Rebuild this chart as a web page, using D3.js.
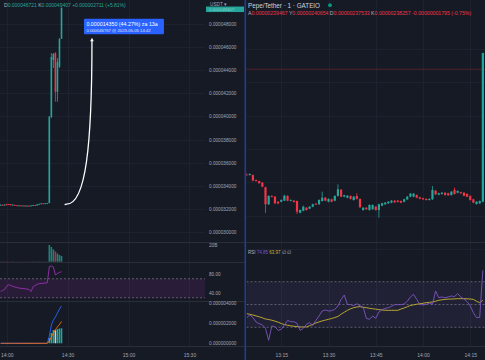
<!DOCTYPE html>
<html><head><meta charset="utf-8">
<script src="https://cdn.jsdelivr.net/npm/d3@7/dist/d3.min.js"></script>
<style>
html,body{margin:0;padding:0;background:#161a25;overflow:hidden}
svg{display:block}
</style></head><body>
<svg id="chart" width="485" height="360"></svg>
<script>
// ---------------- LEFT CHART DATA (prices in 1e-9 USDT) ----------------
const leftTimes = ["13:57","13:58","13:59","14:00","14:01","14:02","14:03","14:04","14:05","14:06","14:07","14:08","14:09","14:10","14:11","14:12","14:13","14:14","14:15","14:16","14:17","14:18","14:19","14:20","14:21","14:22","14:23","14:24","14:25","14:26","14:27"];
const leftOpen  = [32329,32355,32303,32416,32416,32399,32329,32346,32312,32277,32303,32260,32286,32242,32277,32242,32286,32329,32294,32390,32433,32476,32433,32485,32502,39948,44883,45489,42139,44303,46721];
const leftHigh  = [32390,32372,32390,32433,32433,32416,32390,32355,32329,32312,32312,32294,32294,32286,32286,32303,32346,32346,32399,32450,32490,32490,32500,32520,40035,45489,45489,45550,45056,46788,49407];
const leftLow   = [32303,32286,32294,32312,32329,32294,32312,32277,32260,32260,32250,32250,32230,32230,32230,32235,32277,32286,32286,32380,32420,32420,32425,32470,32490,39861,44190,41273,41273,44200,46721];
const leftClose = [32355,32303,32372,32329,32346,32312,32372,32286,32277,32303,32260,32286,32242,32277,32242,32294,32329,32294,32390,32433,32476,32433,32485,32502,39974,45143,45403,42139,44710,46696,49407];
const leftVolume = [0.2,0.3,0.2,0.3,0.2,0.2,0.3,0.1,0.2,0.1,0.2,0.1,0.2,0.1,0.2,0.2,0.3,0.2,0.3,0.3,0.2,0.3,0.2,0.3,20,17.6,14.6,12.2,9.8,8.0,6.8];
const leftRsi = [43.2,45.3,47.4,54.7,57.5,55.8,53.7,52.6,51.6,50.5,49.9,49.3,48.8,48.4,47.4,43.2,53.3,55.8,57.9,60,60,60.4,61.1,61.7,95.8,96.8,94.7,77.9,81.1,83.2,84.8];
const leftMacd   = [0,0,0,0,0,0,0,0,0,0,0,0,0,0,0,0,0,0,0,0,0,0,0,0,730,1830,2330,2630,3030,3430,3730];
const leftSignal = [0,0,0,0,0,0,0,0,0,0,0,0,0,0,0,0,0,0,0,0,0,0,0,0,230,630,1030,1380,1630,1880,2180];
const leftHist   = [0,0,0,0,0,0,0,0,0,0,0,0,0,0,0,0,0,0,0,0,0,0,0,0,530,1030,1330,1300,1430,1480,1500];
const leftPriceTicks = [30000,32000,34000,36000,38000,40000,42000,44000,46000,48000];
const leftRsiTicks = [40,80];
const leftRsiBand = [30,70];
const leftMacdTicks = [0,2000,4000];
const leftTimeTicks = ["14:00","14:30","15:00","15:30"];
const leftCurrent = 49407;
// measure arrow: from time/price to time/price, with two control points
const measureFrom = ["14:29:30", 32416];
const measureCtrl1 = ["14:39:00", 32416];
const measureCtrl2 = ["14:42:00", 37524];
const measureTo   = ["14:42:00", 46767];
const measureLine1 = "0.000014350 (44.27%) za 13a";
const measureLine2 = "0.000046767 @ 2023-05-05  14:42";

// ---------------- RIGHT CHART DATA (Pepe/Tether, prices in 1e-9 USDT) ----------------
const rightStart = "13:04";
const rightOpen = [2407.3,2406.8,2406.8,2402.5,2401.6,2400.2,2396.2,2381.5,2388.7,2388.1,2383.7,2383.7,2384.6,2388.7,2384.6,2384.6,2384.3,2374.2,2375.9,2378.5,2377.7,2379.4,2382.0,2381.5,2384.3,2387.2,2383.7,2385.8,2384.6,2388.7,2394.1,2388.1,2387.2,2388.7,2385.2,2388.7,2386.1,2376.5,2378.5,2376.5,2377.2,2379.4,2376.5,2380.3,2381.5,2382.3,2382.9,2384.6,2384.6,2384.3,2383.7,2385.8,2388.1,2388.1,2389.5,2387.5,2386.7,2386.1,2385.2,2385.8,2393.3,2389.8,2390.4,2391.5,2391.0,2389.5,2393.9,2391.5,2391.9,2391.5,2390.4,2388.7,2385.8,2381.7,2382.3,2383.7];
const rightHigh = [2408.6,2408.2,2407.3,2402.9,2401.9,2400.6,2396.7,2389.3,2389.3,2388.7,2384.3,2385.8,2389.8,2389.3,2385.8,2385.2,2384.8,2377.0,2380.3,2379.0,2379.9,2382.0,2382.5,2385.8,2392.4,2387.7,2386.6,2386.3,2389.3,2398.8,2394.6,2389.8,2389.4,2389.2,2388.6,2391.0,2386.6,2379.0,2379.0,2381.4,2381.4,2379.9,2382.0,2382.8,2383.4,2384.2,2385.1,2385.1,2385.1,2384.8,2386.3,2388.6,2391.2,2391.2,2390.0,2388.0,2387.2,2386.6,2386.6,2397.3,2393.8,2391.5,2392.0,2392.0,2391.5,2392.9,2395.9,2393.5,2392.4,2392.0,2390.9,2389.2,2386.3,2384.2,2384.8,2512.5];
const rightLow = [2406.0,2406.4,2401.6,2401.1,2399.3,2396.2,2373.9,2380.9,2387.5,2381.7,2381.5,2383.2,2384.3,2384.1,2384.1,2383.0,2373.1,2373.6,2375.4,2376.0,2377.2,2378.9,2381.0,2381.0,2383.8,2384.1,2383.2,2383.2,2384.1,2388.2,2387.6,2387.6,2386.7,2385.6,2384.7,2385.6,2378.4,2376.0,2376.7,2376.0,2376.7,2376.0,2369.9,2379.8,2381.0,2381.8,2382.4,2382.7,2383.0,2382.4,2383.2,2385.3,2387.6,2387.6,2386.7,2385.8,2385.3,2384.7,2384.7,2385.3,2389.6,2389.3,2389.9,2389.0,2388.8,2389.0,2389.9,2391.0,2390.5,2388.4,2387.6,2384.7,2382.4,2381.2,2381.8,2383.2];
const rightClose = [2406.8,2407.7,2401.9,2401.6,2399.7,2396.7,2381.5,2388.7,2388.1,2382.3,2382.3,2385.2,2388.9,2384.6,2385.2,2383.5,2375.1,2376.5,2379.4,2376.5,2379.4,2381.5,2381.5,2385.2,2387.2,2384.6,2386.1,2383.7,2388.7,2394.5,2388.1,2389.3,2388.9,2386.1,2388.1,2386.1,2378.9,2378.5,2377.2,2380.9,2380.9,2376.5,2381.5,2382.3,2382.9,2383.7,2384.6,2383.2,2383.5,2382.9,2385.8,2388.1,2390.7,2390.7,2387.2,2386.3,2385.8,2385.2,2386.1,2393.9,2390.1,2391.0,2391.5,2389.5,2389.3,2392.4,2390.4,2393.0,2391.0,2388.9,2388.1,2385.2,2382.9,2383.7,2384.3,2512.5];
const rightRsi = [38.4,40.8,38.7,34.6,33.2,32.0,29.1,18.6,31.1,30.6,27.3,28.2,32.0,36.1,34.9,34.9,33.5,27.3,29.1,32.6,34.1,31.7,36.1,39.9,44.3,45.2,44.3,44.6,45.8,48.7,54.5,58.3,50.1,49.9,49.0,50.7,48.7,47.8,37.9,37.0,39.9,37.9,43.4,45.5,46.6,47.2,48.4,49.9,49.9,49.9,50.4,52.8,56.6,58.9,54.5,50.1,49.6,50.1,51.3,50.1,61.8,56.0,56.6,56.0,56.6,57.5,56.9,59.5,56.6,54.8,52.5,48.7,42.8,38.4,38.7,80.0];
const rightRsiMa = [42.0,41.4,40.8,40.0,39.2,38.3,37.3,36.8,36.2,35.4,34.5,33.3,32.4,31.8,31.3,30.9,30.6,30.3,30.3,30.3,31.4,32.5,33.8,34.7,35.6,36.3,37.0,37.7,38.6,39.5,41.5,43.2,44.9,46.2,47.2,47.8,48.1,47.6,47.2,46.7,46.3,45.9,45.5,45.2,44.9,44.9,44.9,44.9,44.9,46.0,46.9,48.0,49.1,49.7,50.2,50.7,51.1,51.6,51.9,52.2,52.9,53.7,54.1,54.5,54.7,54.8,54.9,55.1,55.1,55.1,55.0,54.8,54.5,52.8,51.6,53.7];
const rightRsiBand = [30,50,70];
const rightTimeTicks = ["13:15","13:30","13:45","14:00","14:15"];
const rightGridPrices = [2342.7,2371.6,2400.5,2429.4,2458.3,2487.2,2516.1];
const rightRefPrice = 2498.4;
const rightTitle = "Pepe/Tether · 1 · GATEIO";
const rightLegend = [["A","0.00000239467"],["Y","0.00000240654"],["D","0.00000237533"],["K","0.00000238257"],["","-0.00000001795 (-0.75%)"]];
const leftLegend = [["D","0.000046721"],["K","0.000049407"],["","+0.000002711 (+5.81%)"]];
const rsiLegend = [["RSI","#b2b5be"],["74.85","#7e57c2"],["63.97","#c9b530"],["∅","#b2b5be"],["∅","#b2b5be"]];

// ---------------- DRAWING ----------------
const FONT = '"Liberation Sans", Arial, sans-serif';
const BG='#161a25', GRID='#1e2230', SEP='#2a2e39', TXT='#a3a6af', UP='#26a69a', DOWN='#f23645';
const parseT = d3.timeParse('%H:%M');
const parseTS = d3.timeParse('%H:%M:%S');
const svg = d3.select('#chart');
svg.append('rect').attr('width',485).attr('height',360).attr('fill',BG);
const defs = svg.append('defs');
function clip(id,x,y,w,h){defs.append('clipPath').attr('id',id).append('rect').attr('x',x).attr('y',y).attr('width',w).attr('height',h);}
clip('lp',0,0,205,242); clip('lv',0,242,205,20); clip('lr',0,262,205,39); clip('lm',0,301,205,45);
clip('rp',246.5,0,238.5,242); clip('rr',246.5,242,238.5,104);

// scales
const xL = d3.scaleTime().domain([parseT('14:00'),parseT('15:30')]).range([6.7,189.4]);
const yL = d3.scaleLinear().domain([30000,48000]).range([232,24]);
const vL = d3.scaleLinear().domain([0,20]).range([261.7,245]);
const rL = d3.scaleLinear().domain([40,80]).range([293,274]);
const mL = d3.scaleLinear().domain([0,4000]).range([343.3,303.3]);
const xR = d3.scaleTime().domain([parseT('14:00'),parseT('14:15')]).range([423,470.25]);
const yR = d3.scaleLinear().domain([2350,2520]).range([240.65,44.29]);
const rR = d3.scaleLinear().domain([30,70]).range([327.3,281.7]);

// ---- grids ----
const gl = svg.append('g');
gl.selectAll('line.hg').data(leftPriceTicks).join('line')
  .attr('x1',0).attr('x2',205).attr('y1',d=>Math.round(yL(d))+0.5).attr('y2',d=>Math.round(yL(d))+0.5)
  .attr('stroke',GRID).attr('stroke-width',1);
gl.selectAll('line.vg').data(leftTimeTicks.map(parseT)).join('line')
  .attr('x1',d=>Math.round(xL(d))+0.5).attr('x2',d=>Math.round(xL(d))+0.5).attr('y1',0).attr('y2',346)
  .attr('stroke',GRID).attr('stroke-width',1);
const gr = svg.append('g');
gr.selectAll('line.hg').data(rightGridPrices).join('line')
  .attr('x1',246.5).attr('x2',485).attr('y1',d=>Math.round(yR(d))+0.5).attr('y2',d=>Math.round(yR(d))+0.5)
  .attr('stroke',GRID).attr('stroke-width',1);
gr.selectAll('line.vg').data(rightTimeTicks.map(parseT)).join('line')
  .attr('x1',d=>Math.round(xR(d))+0.5).attr('x2',d=>Math.round(xR(d))+0.5).attr('y1',0).attr('y2',346)
  .attr('stroke',GRID).attr('stroke-width',1);

// ---- pane separators ----
const seps = svg.append('g');
[[0,245,242],[0,245,262],[0,245,301],[0,245,346],[246,485,242],[246,485,346]].forEach(s=>{
  seps.append('line').attr('x1',s[0]).attr('x2',s[1]).attr('y1',s[2]+0.5).attr('y2',s[2]+0.5).attr('stroke',SEP).attr('stroke-width',1);
});

// ---- candles ----
function candles(g, data, x, y, w){
  g.selectAll('line.w').data(data).join('line').attr('class','w')
    .attr('x1',d=>x(d.t)).attr('x2',d=>x(d.t)).attr('y1',d=>y(d.h)).attr('y2',d=>y(d.l))
    .attr('stroke',d=>d.c>=d.o?UP:DOWN).attr('stroke-width',0.8);
  g.selectAll('rect.b').data(data).join('rect').attr('class','b')
    .attr('x',d=>x(d.t)-w/2).attr('width',w)
    .attr('y',d=>Math.min(y(d.o),y(d.c)))
    .attr('height',d=>Math.max(0.9,Math.abs(y(d.o)-y(d.c))))
    .attr('fill',d=>d.c>=d.o?UP:DOWN);
}
const leftData = leftTimes.map((t,i)=>({t:parseT(t),o:leftOpen[i],h:leftHigh[i],l:leftLow[i],c:leftClose[i],v:leftVolume[i],r:leftRsi[i],m:leftMacd[i],s:leftSignal[i],hi:leftHist[i]}));
const rStart = parseT(rightStart);
const rightData = rightOpen.map((o,i)=>({t:d3.timeMinute.offset(rStart,i),o,h:rightHigh[i],l:rightLow[i],c:rightClose[i],r:rightRsi[i],ma:rightRsiMa[i]}));

candles(svg.append('g').attr('clip-path','url(#lp)'), leftData, xL, yL, 1.6);

// right reference line
svg.append('line').attr('x1',246.5).attr('x2',485).attr('y1',yR(rightRefPrice)).attr('y2',yR(rightRefPrice))
  .attr('stroke','#f23645').attr('stroke-opacity',0.45).attr('stroke-width',0.6);
candles(svg.append('g').attr('clip-path','url(#rp)'), rightData, xR, yR, 2.2);

// ---- left volume ----
svg.append('g').attr('clip-path','url(#lv)').selectAll('rect').data(leftData).join('rect')
  .attr('x',d=>xL(d.t)-0.8).attr('width',1.6).attr('y',d=>vL(d.v)).attr('height',d=>vL(0)-vL(d.v))
  .attr('fill',d=>d.c>=d.o?UP:DOWN).attr('fill-opacity',0.75);

// ---- left RSI ----
const glr = svg.append('g').attr('clip-path','url(#lr)');
glr.append('rect').attr('x',0).attr('width',205).attr('y',rL(leftRsiBand[1])).attr('height',rL(leftRsiBand[0])-rL(leftRsiBand[1]))
  .attr('fill','#9c27b0').attr('fill-opacity',0.15);
glr.selectAll('line.bd').data(leftRsiBand).join('line').attr('x1',0).attr('x2',205).attr('y1',d=>rL(d)).attr('y2',d=>rL(d))
  .attr('stroke','#787b86').attr('stroke-width',0.7).attr('stroke-dasharray','2,2');
glr.append('path').datum(leftData).attr('fill','none').attr('stroke','#9c2fb3').attr('stroke-width',0.9)
  .attr('d',d3.line().x(d=>xL(d.t)).y(d=>rL(d.r)));

// ---- left MACD ----
const glm = svg.append('g').attr('clip-path','url(#lm)');
glm.selectAll('rect').data(leftData).join('rect')
  .attr('x',d=>xL(d.t)-0.8).attr('width',1.6).attr('y',d=>mL(d.hi)).attr('height',d=>mL(0)-mL(d.hi))
  .attr('fill',(d,i)=> i>0 && d.hi < leftData[i-1].hi ? '#b2dfdb' : UP);
glm.append('path').datum(leftData).attr('fill','none').attr('stroke','#2962ff').attr('stroke-width',0.9)
  .attr('d',d3.line().x(d=>xL(d.t)).y(d=>mL(d.m)));
glm.append('path').datum(leftData).attr('fill','none').attr('stroke','#ff6d00').attr('stroke-width',0.9)
  .attr('d',d3.line().x(d=>xL(d.t)).y(d=>mL(d.s)));

// ---- right RSI ----
const grr = svg.append('g').attr('clip-path','url(#rr)');
grr.append('rect').attr('x',246.5).attr('width',238.5).attr('y',rR(70)).attr('height',rR(30)-rR(70))
  .attr('fill','#7e57c2').attr('fill-opacity',0.11);
grr.selectAll('line.bd').data(rightRsiBand).join('line').attr('x1',246.5).attr('x2',485).attr('y1',d=>rR(d)).attr('y2',d=>rR(d))
  .attr('stroke','#787b86').attr('stroke-width',0.7).attr('stroke-dasharray','2,2');
grr.append('path').datum(rightData).attr('fill','none').attr('stroke','#c9b530').attr('stroke-width',0.9)
  .attr('d',d3.line().x(d=>xR(d.t)).y(d=>rR(d.ma)));
grr.append('path').datum(rightData).attr('fill','none').attr('stroke','#7e57c2').attr('stroke-width',0.9)
  .attr('d',d3.line().x(d=>xR(d.t)).y(d=>rR(d.r)));

// ---- axes ----
function styleAxis(g, size){
  g.select('.domain').remove();
  g.attr('font-family',FONT).attr('font-size',size);
  g.selectAll('text').attr('fill',TXT);
}
const fmtP = d=>(d*1e-9).toFixed(9);
styleAxis(svg.append('g').attr('transform','translate(207,0)').call(d3.axisRight(yL).tickValues(leftPriceTicks).tickSize(0).tickPadding(2).tickFormat(fmtP)),4.7);
styleAxis(svg.append('g').attr('transform','translate(207,0)').call(d3.axisRight(vL).tickValues([20]).tickSize(0).tickPadding(2).tickFormat(d=>d+'B')),4.7);
styleAxis(svg.append('g').attr('transform','translate(207,0)').call(d3.axisRight(rL).tickValues(leftRsiTicks).tickSize(0).tickPadding(2).tickFormat(d3.format('.2f'))),4.7);
styleAxis(svg.append('g').attr('transform','translate(207,0)').call(d3.axisRight(mL).tickValues(leftMacdTicks).tickSize(0).tickPadding(2).tickFormat(fmtP)),4.7);
styleAxis(svg.append('g').attr('transform','translate(0,351)').call(d3.axisBottom(xL).tickValues(leftTimeTicks.map(parseT)).tickSize(0).tickPadding(2).tickFormat(d3.timeFormat('%H:%M'))),5);
styleAxis(svg.append('g').attr('transform','translate(0,351)').call(d3.axisBottom(xR).tickValues(rightTimeTicks.map(parseT)).tickSize(0).tickPadding(2).tickFormat(d3.timeFormat('%H:%M'))),5);

// USDT + current price label
svg.append('text').attr('x',210).attr('y',5.5).attr('font-family',FONT).attr('font-size',4.7).attr('fill',TXT).text('USDT ▾');
svg.append('rect').attr('x',206).attr('y',yL(leftCurrent)-1.2).attr('width',38).attr('height',5.5).attr('fill',UP);
svg.append('text').attr('x',209).attr('y',yL(leftCurrent)+3).attr('font-family',FONT).attr('font-size',4.3).attr('fill','#cfeee9').attr('fill-opacity',0.6).text(fmtP(leftCurrent));

// ---- measure arrow ----
const mp = d3.path();
const P = a=>[xL(parseTS(a[0])), yL(a[1])];
const p0=P(measureFrom), c1=P(measureCtrl1), c2=P(measureCtrl2), p3=P(measureTo);
mp.moveTo(p0[0]-2,p0[1]+0.5); mp.lineTo(p0[0],p0[1]);
mp.bezierCurveTo(c1[0],c1[1],c2[0],c2[1],p3[0],p3[1]+2);
svg.append('path').attr('d',mp.toString()).attr('fill','none').attr('stroke','#ffffff').attr('stroke-width',1.3);
svg.append('path').attr('d',d3.line()([[p3[0]-1.8,p3[1]+3],[p3[0],p3[1]-0.5],[p3[0]+1.8,p3[1]+3]])+'Z').attr('fill','#ffffff');
// tooltip
const bx = p3[0]-8, by = p3[1]-19.5;
svg.append('rect').attr('x',bx).attr('y',by).attr('width',80).attr('height',15.5).attr('rx',1).attr('fill','#2962ff');
svg.append('text').attr('x',bx+2.5).attr('y',by+7).attr('font-family',FONT).attr('font-size',5.3).attr('fill','#ffffff').text(measureLine1);
svg.append('text').attr('x',bx+2.5).attr('y',by+13).attr('font-family',FONT).attr('font-size',4.2).attr('fill','#e0e6ff').text(measureLine2);

// ---- legends ----
const ll = svg.append('text').attr('x',4).attr('y',7).attr('font-family',FONT).attr('font-size',5);
leftLegend.forEach((p,i)=>{
  ll.append('tspan').attr('fill','#b2b5be').text((i?' ':'')+p[0]);
  ll.append('tspan').attr('fill',UP).text(p[1]);
});
svg.append('text').attr('x',248).attr('y',7.8).attr('font-family',FONT).attr('font-size',6.3).attr('fill','#d1d4dc').text(rightTitle);
svg.append('circle').attr('cx',330).attr('cy',5.2).attr('r',1.9).attr('fill','#089981');
const rl = svg.append('text').attr('x',248).attr('y',15.2).attr('font-family',FONT).attr('font-size',5.2);
rightLegend.forEach((p,i)=>{
  rl.append('tspan').attr('fill','#b2b5be').text((i?' ':'')+p[0]);
  rl.append('tspan').attr('fill',DOWN).text(p[1]);
});
const rs = svg.append('text').attr('x',248).attr('y',253.8).attr('font-family',FONT).attr('font-size',4.5);
rsiLegend.forEach((p,i)=>{ rs.append('tspan').attr('fill',p[1]).text((i?' ':'')+p[0]); });

// ---- panel divider ----
svg.append('line').attr('x1',245.3).attr('x2',245.3).attr('y1',0).attr('y2',360).attr('stroke','#263d8c').attr('stroke-width',1.6);
</script>
</body></html>
